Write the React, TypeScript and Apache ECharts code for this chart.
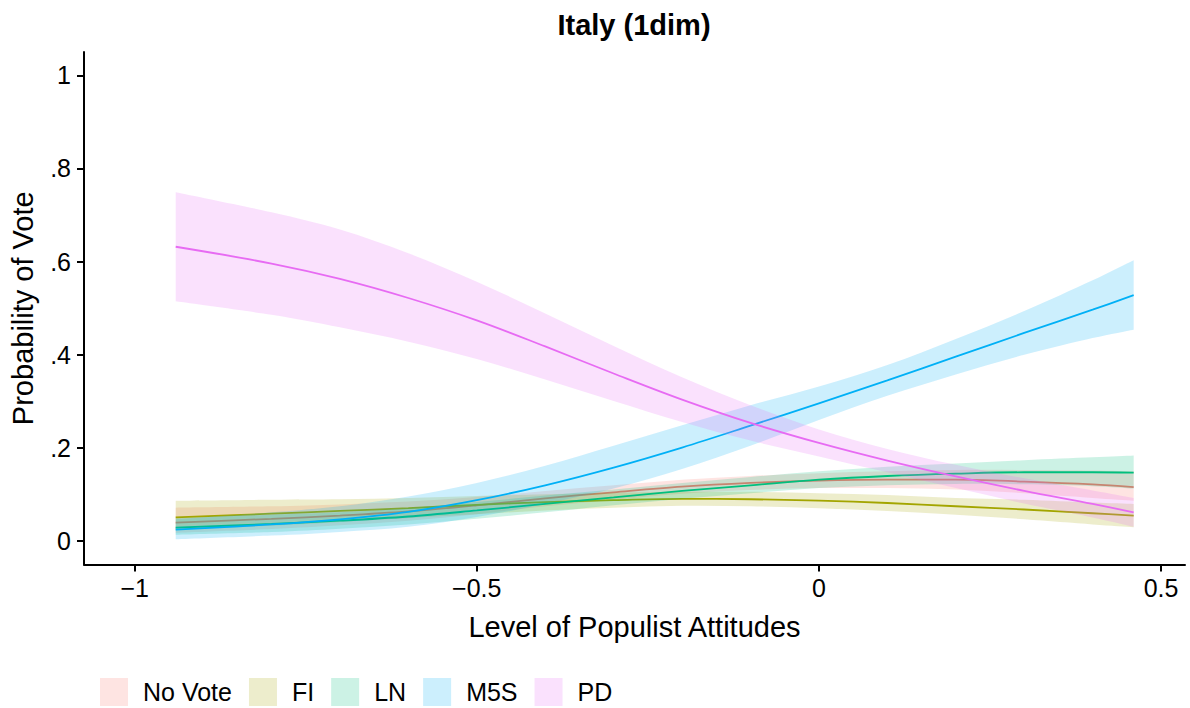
import React, { useEffect, useRef } from "react";
import * as echarts from "echarts";

const FONT = '"Liberation Sans", Arial, Helvetica, sans-serif';

// x grid of predictions (Level of Populist Attitudes)
const xs = [-0.94, -0.8, -0.7, -0.6, -0.5, -0.4, -0.3, -0.2, -0.1, 0, 0.1, 0.2, 0.3, 0.4, 0.46];

const parties = ["No Vote", "FI", "LN", "M5S", "PD"];
const lineColors = ["#F8766D", "#A3A500", "#00BF7D", "#00B0F6", "#E76BF3"];

const noVoteMean = [0.040, 0.048, 0.055, 0.064, 0.077, 0.092, 0.105, 0.117, 0.125, 0.130, 0.132, 0.132, 0.128, 0.122, 0.116];
const noVoteUpper = [0.072, 0.075, 0.079, 0.085, 0.095, 0.108, 0.120, 0.132, 0.140, 0.146, 0.150, 0.153, 0.153, 0.152, 0.150];
const noVoteLower = [0.018, 0.026, 0.034, 0.044, 0.058, 0.075, 0.089, 0.102, 0.110, 0.114, 0.114, 0.111, 0.103, 0.093, 0.087];

const fiMean = [0.051, 0.059, 0.065, 0.071, 0.078, 0.084, 0.088, 0.091, 0.090, 0.087, 0.082, 0.075, 0.068, 0.060, 0.055];
const fiUpper = [0.087, 0.089, 0.090, 0.093, 0.097, 0.101, 0.104, 0.106, 0.106, 0.103, 0.099, 0.093, 0.089, 0.083, 0.080];
const fiLower = [0.025, 0.033, 0.041, 0.050, 0.058, 0.066, 0.072, 0.076, 0.075, 0.071, 0.065, 0.057, 0.047, 0.036, 0.030];

const lnMean = [0.029, 0.037, 0.044, 0.053, 0.066, 0.080, 0.094, 0.108, 0.120, 0.132, 0.140, 0.145, 0.148, 0.148, 0.147];
const lnUpper = [0.050, 0.057, 0.062, 0.071, 0.084, 0.098, 0.111, 0.125, 0.138, 0.150, 0.160, 0.167, 0.174, 0.180, 0.184];
const lnLower = [0.014, 0.020, 0.027, 0.036, 0.048, 0.062, 0.077, 0.091, 0.103, 0.114, 0.120, 0.123, 0.122, 0.118, 0.113];

const m5sMean = [0.025, 0.036, 0.047, 0.063, 0.088, 0.120, 0.158, 0.201, 0.248, 0.296, 0.345, 0.396, 0.447, 0.497, 0.528];
const m5sUpper = [0.047, 0.062, 0.075, 0.096, 0.125, 0.162, 0.205, 0.249, 0.292, 0.332, 0.378, 0.434, 0.494, 0.560, 0.603];
const m5sLower = [0.004, 0.012, 0.020, 0.031, 0.052, 0.080, 0.113, 0.155, 0.205, 0.260, 0.312, 0.358, 0.400, 0.436, 0.454];

const pdMean = [0.632, 0.596, 0.563, 0.522, 0.474, 0.418, 0.360, 0.304, 0.254, 0.211, 0.173, 0.139, 0.108, 0.080, 0.062];
const pdUpper = [0.749, 0.706, 0.669, 0.618, 0.557, 0.489, 0.419, 0.352, 0.292, 0.240, 0.198, 0.164, 0.135, 0.109, 0.093];
const pdLower = [0.515, 0.486, 0.459, 0.428, 0.391, 0.347, 0.301, 0.256, 0.216, 0.182, 0.148, 0.114, 0.081, 0.051, 0.031];

const means = [noVoteMean, fiMean, lnMean, m5sMean, pdMean];
const uppers = [noVoteUpper, fiUpper, lnUpper, m5sUpper, pdUpper];
const lowers = [noVoteLower, fiLower, lnLower, m5sLower, pdLower];

const xTickValues = [-1, -0.5, 0, 0.5];
const xTickLabels = ["\u22121", "\u22120.5", "0", "0.5"];
const yTickValues = [0, 0.2, 0.4, 0.6, 0.8, 1];
const yTickLabels = ["0", ".2", ".4", ".6", ".8", "1"];

const ALPHA = 0.2;

function hexToRgb(hex: string) {
  const n = parseInt(hex.slice(1), 16);
  return [(n >> 16) & 255, (n >> 8) & 255, n & 255];
}
function rgba(hex: string, a: number) {
  const [r, g, b] = hexToRgb(hex);
  return `rgba(${r},${g},${b},${a})`;
}
function blendWhite(hex: string, a: number) {
  const [r, g, b] = hexToRgb(hex);
  const f = (c: number) => Math.round(255 - a * (255 - c));
  return `rgb(${f(r)},${f(g)},${f(b)})`;
}
function lookup(values: number[], labels: string[], v: number) {
  const i = values.findIndex((t) => Math.abs(t - v) < 1e-9);
  return i >= 0 ? labels[i] : "";
}

// Catmull-Rom spline through pixel points, as SVG cubic segments (no leading M)
function splineSegments(pts: number[][]) {
  let d = "";
  const n = pts.length;
  for (let i = 0; i < n - 1; i++) {
    const p0 = pts[Math.max(0, i - 1)];
    const p1 = pts[i];
    const p2 = pts[i + 1];
    const p3 = pts[Math.min(n - 1, i + 2)];
    const c1x = p1[0] + (p2[0] - p0[0]) / 6;
    const c1y = p1[1] + (p2[1] - p0[1]) / 6;
    const c2x = p2[0] - (p3[0] - p1[0]) / 6;
    const c2y = p2[1] - (p3[1] - p1[1]) / 6;
    d += ` C${c1x},${c1y} ${c2x},${c2y} ${p2[0]},${p2[1]}`;
  }
  return d;
}

export default function App() {
  const ref = useRef<HTMLDivElement>(null);

  useEffect(() => {
    if (!ref.current) return;
    const chart = echarts.init(ref.current, null, { renderer: "svg" });

    const series: any[] = [];
    parties.forEach((name, p) => {
      const col = lineColors[p];
      series.push({
        name,
        type: "custom",
        z: 2 + 2 * p,
        silent: true,
        itemStyle: { color: blendWhite(col, ALPHA) },
        data: [[xs[0], lowers[p][0]]],
        renderItem: (params: any, api: any) => {
          if (params.dataIndex !== 0) return null;
          const top = xs.map((x, i) => api.coord([x, uppers[p][i]]));
          const bot = xs.map((x, i) => api.coord([x, lowers[p][i]])).reverse();
          const d =
            `M${top[0][0]},${top[0][1]}` +
            splineSegments(top) +
            ` L${bot[0][0]},${bot[0][1]}` +
            splineSegments(bot) +
            " Z";
          return {
            type: "path",
            shape: { pathData: d },
            style: { fill: rgba(col, ALPHA), stroke: null },
            silent: true,
          };
        },
      });
      series.push({
        name: name + " fit",
        type: "line",
        z: 3 + 2 * p,
        silent: true,
        showSymbol: false,
        symbol: "none",
        smooth: 0.35,
        data: xs.map((x, i) => [x, means[p][i]]),
        lineStyle: { color: col, width: 1.8 },
        itemStyle: { color: col },
      });
    });

    const axisCommon = {
      type: "value",
      nameLocation: "middle",
      nameMoveOverlap: false,
      nameTextStyle: { fontSize: 29, color: "#000", fontFamily: FONT },
      axisLine: { show: true, onZero: false, lineStyle: { color: "#000", width: 2 } },
      splitLine: { show: false },
    };

    chart.setOption({
      animation: false,
      backgroundColor: "#ffffff",
      grid: { left: 84, right: 5, top: 52, bottom: 143.5, containLabel: false, outerBoundsMode: "none" },
      graphic: [
        {
          type: "text",
          x: 634,
          y: 25,
          style: {
            text: "Italy (1dim)",
            font: `bold 29px ${FONT}`,
            fill: "#000",
            textAlign: "center",
            textVerticalAlign: "middle",
          },
        },
      ],
      legend: {
        data: parties,
        left: 100,
        top: 678,
        padding: 0,
        orient: "horizontal",
        icon: "rect",
        itemWidth: 28,
        itemHeight: 28,
        itemGap: 17,
        selectedMode: false,
        itemStyle: { borderWidth: 0 },
        textStyle: { fontSize: 25, color: "#000", fontFamily: FONT, padding: [0, 0, 0, 10] },
      },
      xAxis: {
        ...axisCommon,
        min: -1.074,
        max: 0.535,
        name: "Level of Populist Attitudes",
        nameGap: 48,
        axisTick: { show: true, length: 7, lineStyle: { color: "#000", width: 2 }, customValues: xTickValues },
        axisLabel: {
          customValues: xTickValues,
          formatter: (v: number) => lookup(xTickValues, xTickLabels, v),
          fontSize: 25,
          color: "#000",
          fontFamily: FONT,
          margin: 11,
        },
      },
      yAxis: {
        ...axisCommon,
        min: -0.05,
        max: 1.05,
        name: "Probability of Vote",
        nameGap: 47,
        nameRotate: 90,
        axisTick: { show: true, length: 7, lineStyle: { color: "#000", width: 2 }, customValues: yTickValues },
        axisLabel: {
          customValues: yTickValues,
          formatter: (v: number) => lookup(yTickValues, yTickLabels, v),
          fontSize: 25,
          color: "#000",
          fontFamily: FONT,
          margin: 13,
        },
      },
      series,
    });

    return () => chart.dispose();
  }, []);

  return (
    <div
      ref={ref}
      style={{ position: "absolute", left: 0, top: 0, width: 1190, height: 708, background: "#fff" }}
    />
  );
}
